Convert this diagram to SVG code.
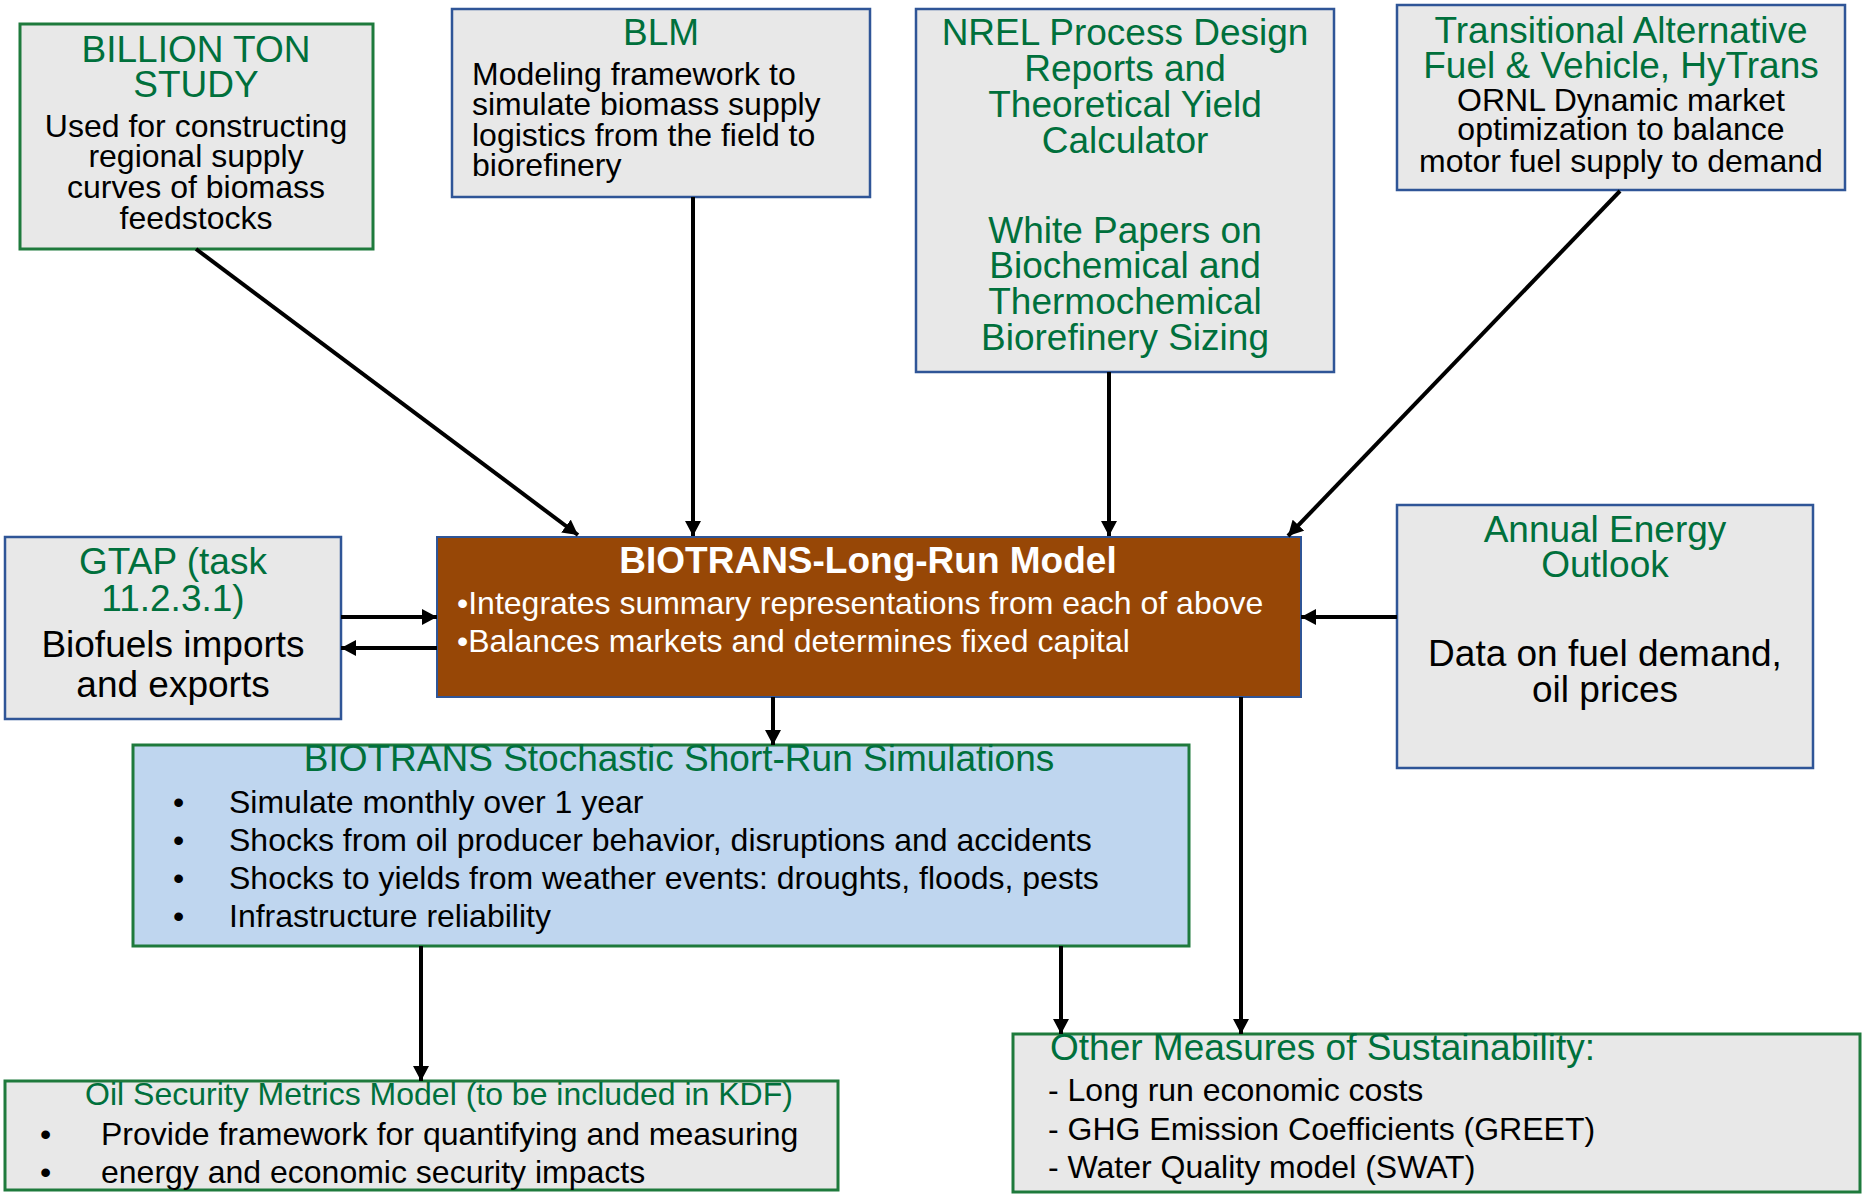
<svg xmlns="http://www.w3.org/2000/svg" width="1865" height="1196" viewBox="0 0 1865 1196">
<style>
text{font-family:"Liberation Sans",Arial,sans-serif;}
.g{fill:#00703C;font-size:37px;}
.gs{fill:#00703C;font-size:32px;}
.b{fill:#000;font-size:32px;}
.bl{fill:#000;font-size:37px;}
.w{fill:#fff;font-size:32px;}
.wt{fill:#fff;font-size:37px;font-weight:bold;}
.c{text-anchor:middle;}
.boxg{fill:#E8E8E8;stroke:#1E7A3C;stroke-width:3;}
.boxb{fill:#E8E8E8;stroke:#2F5597;stroke-width:2.5;}
.conn{stroke:#000;stroke-width:4;fill:none;marker-end:url(#ah);}
</style>
<defs>
<marker id="ah" markerUnits="userSpaceOnUse" markerWidth="16" markerHeight="16" refX="15" refY="8" orient="auto">
<path d="M0,0 L15,8 L0,16 z" fill="#000"/>
</marker>
</defs>
<rect width="1865" height="1196" fill="#fff"/>

<g id="billion">
<rect class="boxg" x="20" y="24" width="353" height="225"/>
<text class="g c" x="196" y="62">BILLION TON</text>
<text class="g c" x="196" y="97">STUDY</text>
<text class="b c" x="196" y="137">Used for constructing</text>
<text class="b c" x="196" y="167">regional supply</text>
<text class="b c" x="196" y="198">curves of biomass</text>
<text class="b c" x="196" y="229">feedstocks</text>
</g>

<g id="blm">
<rect class="boxb" x="452" y="9" width="418" height="188"/>
<text class="g c" x="661" y="45">BLM</text>
<text class="b" x="472" y="85">Modeling framework to</text>
<text class="b" x="472" y="115">simulate biomass supply</text>
<text class="b" x="472" y="146">logistics from the field to</text>
<text class="b" x="472" y="176">biorefinery</text>
</g>

<g id="nrel">
<rect class="boxb" x="916" y="9" width="418" height="363"/>
<text class="g c" x="1125" y="45">NREL Process Design</text>
<text class="g c" x="1125" y="81">Reports and</text>
<text class="g c" x="1125" y="117">Theoretical Yield</text>
<text class="g c" x="1125" y="153">Calculator</text>
<text class="g c" x="1125" y="243">White Papers on</text>
<text class="g c" x="1125" y="278">Biochemical and</text>
<text class="g c" x="1125" y="314">Thermochemical</text>
<text class="g c" x="1125" y="350">Biorefinery Sizing</text>
</g>

<g id="transitional">
<rect class="boxb" x="1397" y="5" width="448" height="185"/>
<text class="g c" x="1621" y="43">Transitional Alternative</text>
<text class="g c" x="1621" y="78">Fuel &amp; Vehicle, HyTrans</text>
<text class="b c" x="1621" y="111">ORNL Dynamic market</text>
<text class="b c" x="1621" y="140">optimization to balance</text>
<text class="b c" x="1621" y="172">motor fuel supply to demand</text>
</g>

<g id="gtap">
<rect class="boxb" x="5" y="537" width="336" height="182"/>
<text class="g c" x="173" y="574">GTAP (task</text>
<text class="g c" x="173" y="611">11.2.3.1)</text>
<text class="bl c" x="173" y="657">Biofuels imports</text>
<text class="bl c" x="173" y="697">and exports</text>
</g>

<g id="longrun">
<rect x="437" y="537" width="864" height="160" fill="#974706" stroke="#2F5597" stroke-width="2"/>
<text class="wt c" x="868" y="573">BIOTRANS-Long-Run Model</text>
<text class="w" x="457" y="614">•Integrates summary representations from each of above</text>
<text class="w" x="457" y="652">•Balances markets and determines fixed capital</text>
</g>

<g id="annual">
<rect class="boxb" x="1397" y="505" width="416" height="263"/>
<text class="g c" x="1605" y="542">Annual Energy</text>
<text class="g c" x="1605" y="577">Outlook</text>
<text class="bl c" x="1605" y="666">Data on fuel demand,</text>
<text class="bl c" x="1605" y="702">oil prices</text>
</g>

<g id="stochastic">
<rect x="133" y="745" width="1056" height="201" fill="#BFD6EF" stroke="#1E7A3C" stroke-width="3"/>
<text class="g c" x="679" y="771">BIOTRANS Stochastic Short-Run Simulations</text>
<text class="b" x="173" y="813">•</text>
<text class="b" x="229" y="813">Simulate monthly over 1 year</text>
<text class="b" x="173" y="851">•</text>
<text class="b" x="229" y="851">Shocks from oil producer behavior, disruptions and accidents</text>
<text class="b" x="173" y="889">•</text>
<text class="b" x="229" y="889">Shocks to yields from weather events: droughts, floods, pests</text>
<text class="b" x="173" y="927">•</text>
<text class="b" x="229" y="927">Infrastructure reliability</text>
</g>

<g id="oilsecurity">
<rect class="boxg" x="5" y="1081" width="833" height="109"/>
<text class="gs c" x="439" y="1105">Oil Security Metrics Model (to be included in KDF)</text>
<text class="b" x="40" y="1145">•</text>
<text class="b" x="101" y="1145">Provide framework for quantifying and measuring</text>
<text class="b" x="40" y="1183">•</text>
<text class="b" x="101" y="1183">energy and economic security impacts</text>
</g>

<g id="othermeasures">
<rect class="boxg" x="1013" y="1034" width="847" height="158"/>
<text class="g" x="1050" y="1060">Other Measures of Sustainability:</text>
<text class="b" x="1048" y="1101">- Long run economic costs</text>
<text class="b" x="1048" y="1140">- GHG Emission Coefficients (GREET)</text>
<text class="b" x="1048" y="1178">- Water Quality model (SWAT)</text>
</g>

<g id="connectors">
<path class="conn" d="M196,249 L578,535"/>
<path class="conn" d="M693,197 L693,536"/>
<path class="conn" d="M1109,372 L1109,536"/>
<path class="conn" d="M1620,191 L1288,536"/>
<path class="conn" d="M341,617 L437,617"/>
<path class="conn" d="M437,648 L341,648"/>
<path class="conn" d="M1397,617 L1301,617"/>
<path class="conn" d="M773,697 L773,745"/>
<path class="conn" d="M1241,697 L1241,1034"/>
<path class="conn" d="M421,946 L421,1081"/>
<path class="conn" d="M1061,946 L1061,1034"/>
</g>
</svg>
